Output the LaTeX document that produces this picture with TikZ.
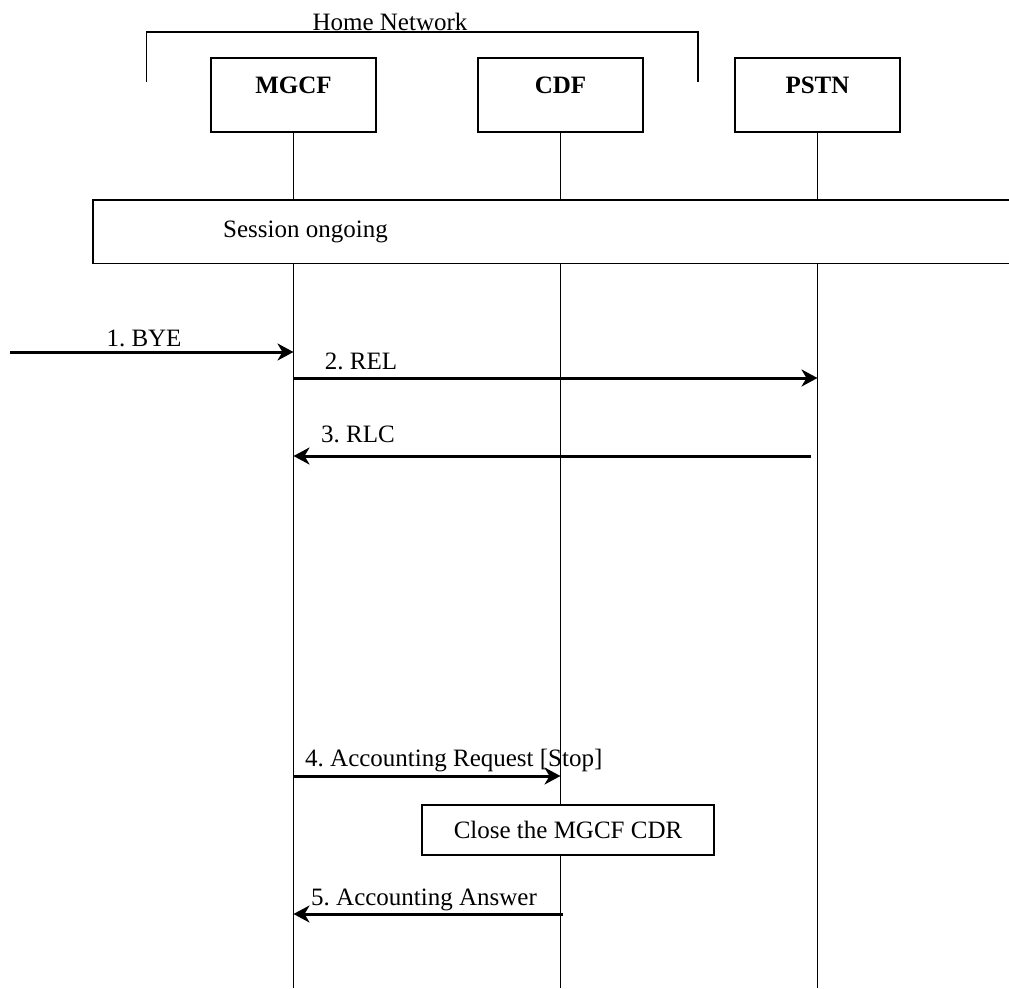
\documentclass[tikz,border=0pt]{standalone}
\usepackage{fontspec}
\setmainfont{Liberation Serif}
\usetikzlibrary{arrows.meta}
\frenchspacing
\begin{document}
\begin{tikzpicture}[x=1pt,y=-1pt,
  every node/.style={font=\fontsize{25}{30}\selectfont, inner sep=0pt},
  entity/.style={draw, line width=1.6pt, minimum width=165pt, minimum height=74pt, fill=white},
  enttext/.style={font=\fontsize{25}{30}\selectfont\bfseries},
  lifeline/.style={line width=1.6pt},
  frame/.style={line width=1.6pt},
  msg/.style={line width=3pt, -{Stealth[length=16pt,width=17pt,inset=5pt]}},
  note/.style={draw, line width=1.6pt, fill=white}]
\useasboundingbox (0,0) rectangle (1009,988);

% Home network bracket
\coordinate (hnA) at (146.5,82);
\coordinate (hnB) at (146.5,32);
\coordinate (hnC) at (698,32);
\coordinate (hnD) at (698,82);
\draw[frame] (hnA) -- (hnB) -- (hnC) -- (hnD);
\node[anchor=base] (hn) at (390,30) {Home Network};

% entities
\node[entity] (mgcf) at (293.5,95) {};
\node[enttext] at (293.5,85) {MGCF};
\node[entity] (cdf) at (560.5,95) {};
\node[enttext] at (560.5,85) {CDF};
\node[entity] (pstn) at (817.5,95) {};
\node[enttext] at (817.5,85) {PSTN};

% lifelines
\coordinate (mgcfEnd) at (293.5,988);
\coordinate (cdfEnd) at (560.5,988);
\coordinate (pstnEnd) at (817.5,988);
\draw[lifeline] (mgcf.south) -- (mgcfEnd);
\draw[lifeline] (cdf.south) -- (cdfEnd);
\draw[lifeline] (pstn.south) -- (pstnEnd);

% session ongoing
\coordinate (sA) at (1012,200);
\coordinate (sB) at (93,200);
\coordinate (sC) at (93,263.5);
\coordinate (sD) at (1012,263.5);
\fill[white] (sB) rectangle (sD);
\draw[frame] (sA) -- (sB) -- (sC) -- (sD);
\node[anchor=west] (sess) at (223,232) {Session ongoing};

% messages
\coordinate (byeStart) at (10,352);
\draw[msg] (byeStart) -- (byeStart -| mgcf);
\node[anchor=base] (l1) at (144,346) {1. BYE};

\draw[msg] (mgcf |- 0,378) -- (pstn |- 0,378);
\node[anchor=base] (l2) at (361,369) {2. REL};

\draw[msg] ([xshift=-7pt]pstn |- 0,456) -- (mgcf |- 0,456);
\node[anchor=base] (l3) at (358,442) {3. RLC};

\draw[msg] (mgcf |- 0,776) -- (cdf |- 0,776);
\node[anchor=base west] (l4) at (305,766) {4. Accounting Request [Stop]};

\node[note, minimum width=292pt, minimum height=50pt] (close) at (568,830) {Close the MGCF CDR};

\draw[msg] ([xshift=2pt]cdf |- 0,914) -- (mgcf |- 0,914);
\node[anchor=base west] (l5) at (311,905) {5. Accounting Answer};
\end{tikzpicture}
\end{document}
